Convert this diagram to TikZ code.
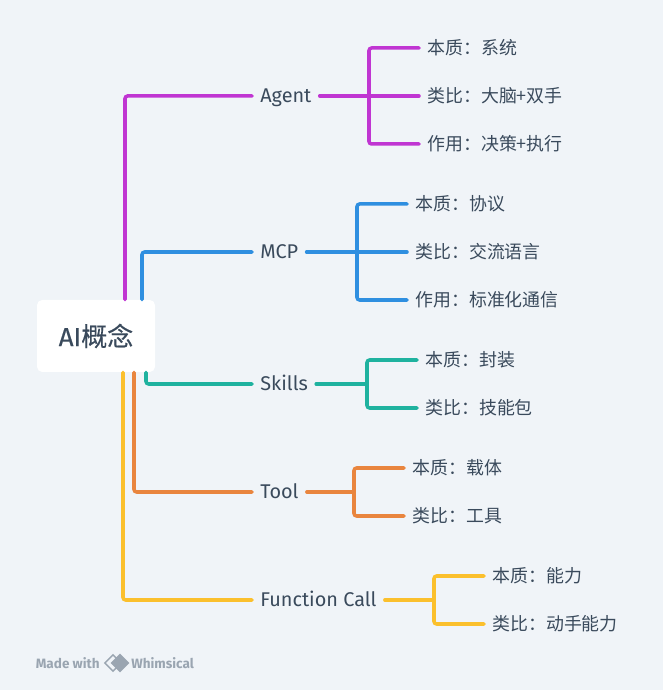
\documentclass[tikz,border=0pt]{standalone}
\usepackage{fontspec}
\setmainfont{Noto Sans CJK SC}
\newfontfamily\latinfont{Fira Sans}
\newfontfamily\rootfont[FakeBold=0.35]{Noto Sans CJK SC}
\newfontfamily\rootlatin[FakeBold=0.35]{Fira Sans}
\usepackage{xcolor}
\usetikzlibrary{shapes.geometric}
\definecolor{pagebg}{HTML}{F0F4F8}
\definecolor{inkdark}{HTML}{3A4A5C}
\definecolor{inkgrey}{HTML}{9AA5B1}
\definecolor{agentcol}{HTML}{C035D2}
\definecolor{mcpcol}{HTML}{2F8FE0}
\definecolor{skillscol}{HTML}{1FB29F}
\definecolor{toolcol}{HTML}{E9853E}
\definecolor{callcol}{HTML}{FBC02D}

\begin{document}
\begin{tikzpicture}[
			root/.style={fill=white, rounded corners=3pt, minimum width=2.36cm, minimum height=1.44cm, align=center, text=inkdark, font=\rootfont\fontsize{14.8pt}{17pt}\selectfont},
			topic/.style={anchor=west, inner xsep=0.16cm, inner ysep=0pt, text height=0.28cm, text depth=0cm, text=inkdark, font=\latinfont\fontsize{11.3pt}{13pt}\selectfont},
			leaf/.style={anchor=west, inner xsep=0.16cm, inner ysep=0pt, text height=0.28cm, text depth=0cm, text=inkdark, font=\fontsize{10.2pt}{12pt}\selectfont},
			mark text/.style={inner sep=0pt, text=inkgrey, font=\latinfont\bfseries\fontsize{7.7pt}{9pt}\selectfont},
			wire/.style={line width=2pt, rounded corners=1.5pt, line cap=round}
			]
			\useasboundingbox[fill=pagebg] (0,0) rectangle (13.26,13.8);
			\node[root] (ai) at (1.92,7.08) {{\rootlatin AI}概念};
			% first level
			\node[topic] (agent) at (5.04,11.88) {Agent};
			\node[topic] (mcp) at (5.04,8.76) {MCP};
			\node[topic] (skills) at (5.04,6.12) {Skills};
			\node[topic] (tool) at (5.04,3.96) {Tool};
			\node[topic] (fcall) at (5.04,1.80) {Function Call};
			% Agent
			\node[leaf] (agent1) at (8.38,12.84) {本质：系统};
			\node[leaf] (agent2) at (8.38,11.88) {类比：大脑+双手};
			\node[leaf] (agent3) at (8.38,10.92) {作用：决策+执行};
			\coordinate (agentfork) at (7.38,11.88);
			% MCP
			\node[leaf] (mcp1) at (8.14,9.72) {本质：协议};
			\node[leaf] (mcp2) at (8.14,8.76) {类比：交流语言};
			\node[leaf] (mcp3) at (8.14,7.80) {作用：标准化通信};
			\coordinate (mcpfork) at (7.14,8.76);
			% Skills
			\node[leaf] (skills1) at (8.34,6.60) {本质：封装};
			\node[leaf] (skills2) at (8.34,5.64) {类比：技能包};
			\coordinate (skillsfork) at (7.34,6.12);
			% Tool
			\node[leaf] (tool1) at (8.08,4.44) {本质：载体};
			\node[leaf] (tool2) at (8.08,3.48) {类比：工具};
			\coordinate (toolfork) at (7.08,3.96);
			% Function Call
			\node[leaf] (fcall1) at (9.68,2.28) {本质：能力};
			\node[leaf] (fcall2) at (9.68,1.32) {类比：动手能力};
			\coordinate (fcallfork) at (8.68,1.80);
			% root to topics
			\draw[wire, agentcol] ([xshift=0.58cm]ai.north) |- (agent.west);
			\draw[wire, mcpcol] ([xshift=0.92cm]ai.north) |- (mcp.west);
			\draw[wire, skillscol] ([xshift=1.00cm]ai.south) |- (skills.west);
			\draw[wire, toolcol] ([xshift=0.76cm]ai.south) |- (tool.west);
			\draw[wire, callcol] ([xshift=0.54cm]ai.south) |- (fcall.west);
			% topics to leaves
			\draw[wire, agentcol] (agent.east) -- (agent2.west);
			\draw[wire, agentcol] (agent1.west) -| (agentfork) |- (agent3.west);
			\draw[wire, mcpcol] (mcp.east) -- (mcp2.west);
			\draw[wire, mcpcol] (mcp1.west) -| (mcpfork) |- (mcp3.west);
			\draw[wire, skillscol] (skills.east) -- (skillsfork);
			\draw[wire, skillscol] (skills1.west) -| (skillsfork) |- (skills2.west);
			\draw[wire, toolcol] (tool.east) -- (toolfork);
			\draw[wire, toolcol] (tool1.west) -| (toolfork) |- (tool2.west);
			\draw[wire, callcol] (fcall.east) -- (fcallfork);
			\draw[wire, callcol] (fcall1.west) -| (fcallfork) |- (fcall2.west);
			% footer
			\node[mark text, anchor=west] (made) at (0.71,0.54) {Made with};
			\node[diamond, draw=inkgrey, line width=0.8pt, inner sep=0pt, minimum size=0.34cm] (logoa) at (2.26,0.54) {};
			\node[diamond, fill=inkgrey, inner sep=0pt, minimum size=0.38cm] (logob) at (2.40,0.54) {};
			\node[mark text, anchor=west] (whim) at (2.62,0.54) {Whimsical};
		\end{tikzpicture}
\end{document}
